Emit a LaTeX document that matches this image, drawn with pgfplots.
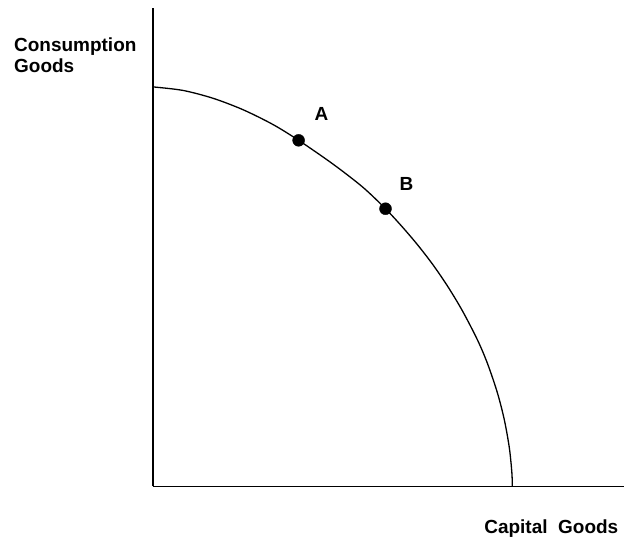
\documentclass[border=0pt]{standalone}
\usepackage{pgfplots}
\pgfplotsset{compat=1.18}
\usepackage{fontspec}
\setmainfont{Liberation Sans}
\begin{document}
\begin{tikzpicture}
\begin{axis}[
  scale only axis,
  width=472pt, height=479pt,
  xmin=0, xmax=472, ymin=0, ymax=479,
  axis lines=left,
  axis line style={-, line width=1.6pt},
  xtick=\empty, ytick=\empty,
  clip=false,
]
\addplot[black, line width=1.3pt, smooth, tension=0.5] coordinates {
(0,400) (30,396.5) (60,388.7) (90,377.3) (120,362.5) (146,346.5) (180,323)
(210,299.8) (233,278) (250,259.6) (265,242) (280,222.6) (295,200.7) (310,175.8)
(325,146.8) (335,123.3) (345,93.8) (352,66.5) (357,38.5) (359.5,14) (360,0)};
\addplot[only marks, mark=*, mark size=6pt, black] coordinates {(146,346.5) (233,278)};
\node[font=\bfseries\fontsize{19}{21}\selectfont, anchor=north west, align=left, inner sep=0pt] at (axis cs:-139,449) {Consumption\\Goods};
\node[font=\bfseries\fontsize{19}{21}\selectfont, anchor=center, inner sep=0pt] at (axis cs:399,-42) {Capital\ \ Goods};
\node[font=\bfseries\fontsize{19}{21}\selectfont, inner sep=0pt] at (axis cs:169,373) {A};
\node[font=\bfseries\fontsize{19}{21}\selectfont, inner sep=0pt] at (axis cs:254,303) {B};
\coordinate (bl) at (axis cs:-153,-55);
\coordinate (tr) at (axis cs:472,487);
\end{axis}
\path[use as bounding box] (bl) rectangle (tr);
\end{tikzpicture}
\end{document}
